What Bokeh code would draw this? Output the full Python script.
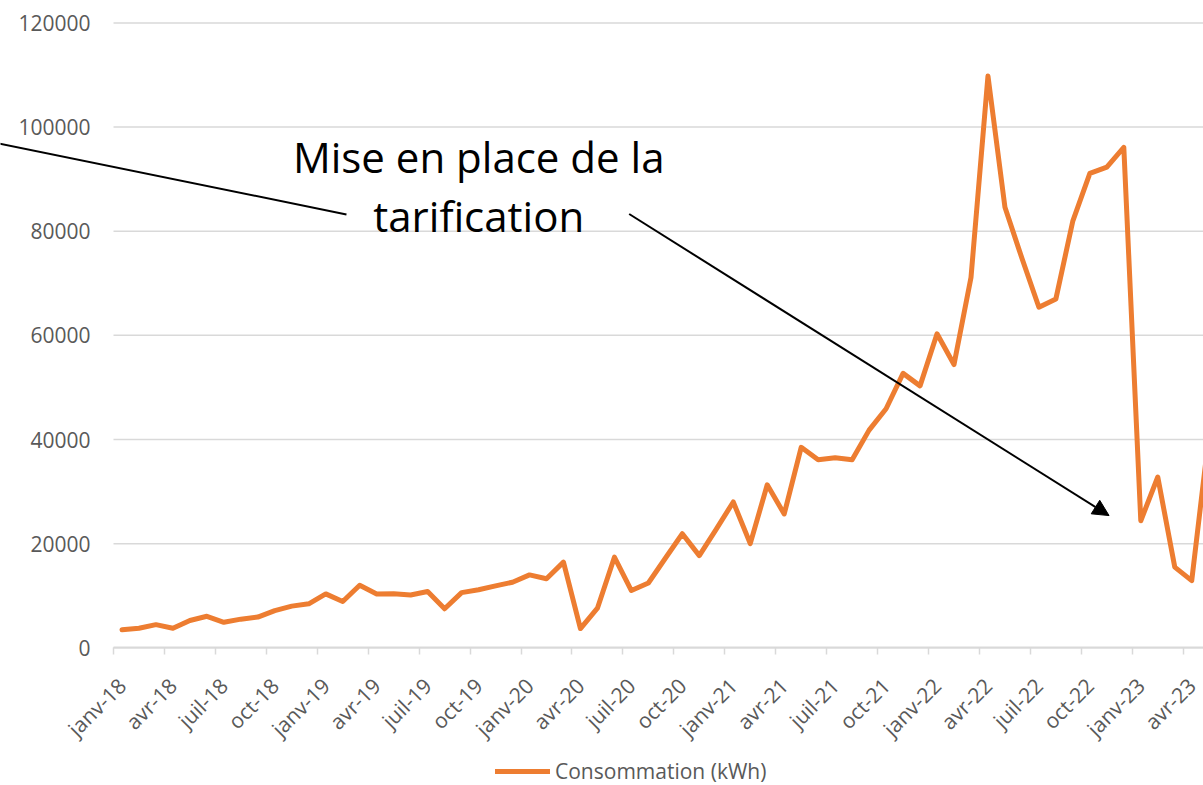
import math
from bokeh.plotting import figure
from bokeh.models import (FixedTicker, BasicTickFormatter, Label, Arrow, NormalHead,
                          Legend, LegendItem, Range1d, ColumnDataSource)
from bokeh.embed import file_html
from bokeh.resources import INLINE

# ---- data -------------------------------------------------------------
mois = ["janv", "févr", "mars", "avr", "mai", "juin",
        "juil", "août", "sept", "oct", "nov", "déc"]
annees = ["18", "19", "20", "21", "22", "23"]
months = [f"{m}-{a}" for a in annees for m in mois][:65]

consommation = [
    3450, 3750, 4450, 3750, 5250, 6050, 4900, 5500, 5900, 7150, 8000, 8450,      # 2018
    10350, 8900, 12000, 10350, 10400, 10150, 10800, 7500, 10600, 11150, 11900, 12600,  # 2019
    14000, 13250, 16450, 3700, 7600, 17400, 11000, 12450, 17200, 21900, 17700, 22800,  # 2020
    28000, 20000, 31300, 25700, 38500, 36100, 36500, 36100, 41800, 45900, 52700, 50300,  # 2021
    60300, 54400, 71100, 109800, 84600, 74800, 65400, 67000, 82000, 91100, 92300, 96100,  # 2022
    24400, 32800, 15500, 12900, 40500,                                              # 2023
]

tick_idx = list(range(0, 64, 3))          # janv, avr, juil, oct
y_ticks = [0, 20000, 40000, 60000, 80000, 100000, 120000]
serie_label = "Consommation (kWh)"
annotation_lines = ["Mise en place de la", "tarification"]

# ---- figure -----------------------------------------------------------
FONT = "Open Sans"
GREY_TXT = "#595959"
GRID = "#d9d9d9"

W, H = 1203, 785
X0_PX, Y0_PX = 113.0, 647.3          # where (0, 0) of the data sits
PX_PER_MONTH = 16.98
UNITS_PER_PX = 20000 / 104.15

src = ColumnDataSource(dict(x=[i + 0.5 for i in range(len(consommation))],
                            y=consommation))

x_rng = Range1d(-X0_PX / PX_PER_MONTH, (W - X0_PX) / PX_PER_MONTH)
y_rng = Range1d(-(H - Y0_PX) * UNITS_PER_PX, Y0_PX * UNITS_PER_PX)

p = figure(width=W, height=H, output_backend="svg", toolbar_location=None,
           x_range=x_rng, y_range=y_rng,
           min_border_left=0, min_border_top=0, min_border_bottom=0,
           min_border_right=0)
p.outline_line_color = None
p.background_fill_color = "white"
p.border_fill_color = "white"

# horizontal gridlines, starting at the value axis
grid_end = len(consommation) + 5
p.segment(x0=[0] * len(y_ticks), y0=y_ticks, x1=[grid_end] * len(y_ticks), y1=y_ticks,
          line_color=GRID, line_width=1.5, level="underlay")

r = p.line("x", "y", source=src, line_color="#ED7D31", line_width=5,
           line_join="round", line_cap="round")

# x axis (pinned at y = 0)
xa = p.xaxis[0]
xa.fixed_location = 0
xa.bounds = (0, grid_end)
xa.ticker = FixedTicker(ticks=[i + 0.5 for i in tick_idx],
                        minor_ticks=[float(i) for i in tick_idx])
xa.major_label_overrides = {i + 0.5: months[i] for i in tick_idx}
xa.major_tick_in = 0
xa.major_tick_out = 0
xa.minor_tick_in = 0
xa.minor_tick_out = 7
xa.minor_tick_line_color = GRID
xa.minor_tick_line_width = 1.5
xa.axis_line_color = GRID
xa.axis_line_width = 2
xa.major_label_orientation = math.pi / 4
xa.major_label_text_font = FONT
xa.major_label_text_font_size = "21px"
xa.major_label_text_color = GREY_TXT
xa.major_label_standoff = 27

# y axis (pinned at x = 0)
ya = p.yaxis[0]
ya.fixed_location = 0
ya.ticker = FixedTicker(ticks=y_ticks)
ya.formatter = BasicTickFormatter(use_scientific=False)
ya.axis_line_color = None
ya.major_tick_line_color = None
ya.major_tick_in = 0
ya.major_tick_out = 0
ya.minor_tick_line_color = None
ya.major_label_standoff = 23
ya.major_label_text_font = FONT
ya.major_label_text_font_size = "21px"
ya.major_label_text_color = GREY_TXT

p.xgrid.visible = False
p.ygrid.visible = False

# annotation
p.add_layout(Label(x=21.51, y=94300, text=annotation_lines[0], text_align="center",
                   text_baseline="alphabetic", text_font=FONT, text_font_size="42px",
                   text_color="black"))
p.add_layout(Label(x=21.51, y=83000, text=annotation_lines[1], text_align="center",
                   text_baseline="alphabetic", text_font=FONT, text_font_size="42px",
                   text_color="black"))
p.add_layout(Arrow(x_start=13.72, y_start=83225, x_end=-7.2, y_end=97120, end=None,
                   line_color="black", line_width=2))
p.add_layout(Arrow(x_start=30.37, y_start=83301, x_end=58.63, y_end=25393,
                   end=NormalHead(size=16, fill_color="black", line_color="black"),
                   line_color="black", line_width=2))

# legend (inside the frame, under the tick labels)
legend = Legend(items=[LegendItem(label=serie_label, renderers=[r])],
                location=(495, 0), orientation="horizontal",
                glyph_width=55, glyph_height=20, label_standoff=5, padding=0,
                margin=0, border_line_color=None, background_fill_alpha=0,
                label_text_font=FONT, label_text_font_size="21px",
                label_text_color=GREY_TXT)
p.add_layout(legend)

open("out.html", "w").write(file_html(p, INLINE))
